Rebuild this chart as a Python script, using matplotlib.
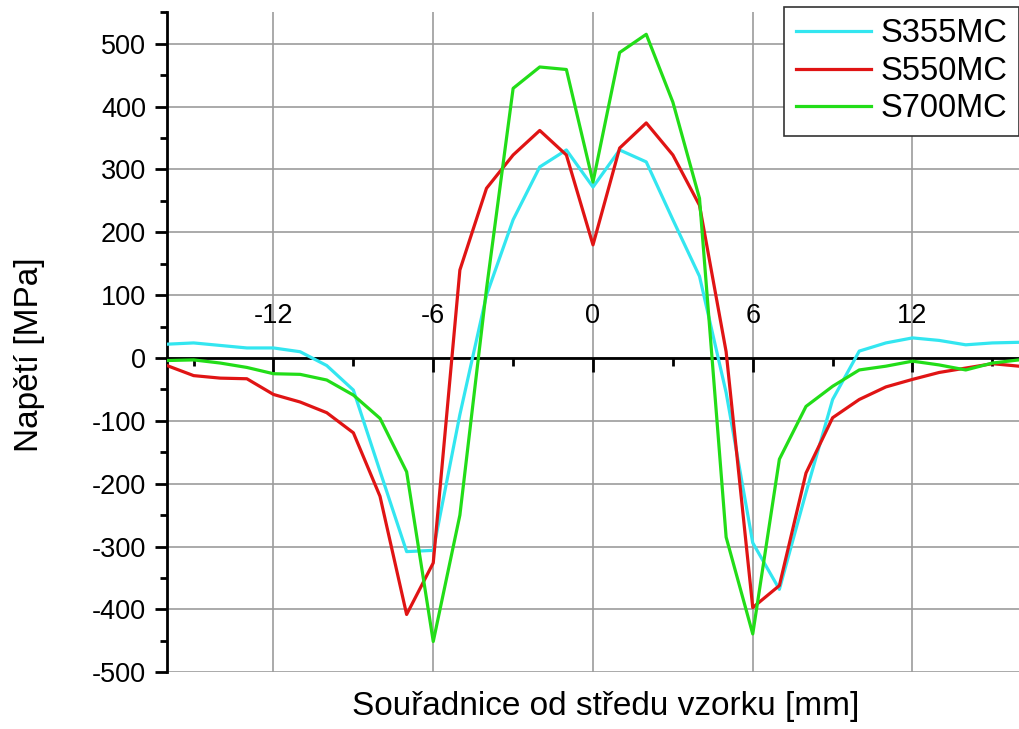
import matplotlib
matplotlib.use("Agg")
import matplotlib.pyplot as plt
from matplotlib.ticker import MultipleLocator
import numpy as np

plt.rcParams['font.family'] = ['Liberation Sans', 'DejaVu Sans']
plt.rcParams['axes.unicode_minus'] = False

# souradnice [mm]
x = list(range(-16, 17))

s355 = [22, 24, 20, 16, 16, 10, -12, -51, -180, -308, -306, -90, 100, 220, 304, 331,
        272, 331, 312, 220, 130, -55, -294, -368, -214, -66, 11, 24, 32, 28, 21, 24, 25]
s550 = [-12, -28, -32, -33, -58, -70, -87, -119, -220, -408, -326, 140, 270, 323, 362, 323,
        180, 334, 374, 323, 243, 10, -397, -362, -183, -95, -66, -46, -34, -23, -16, -9, -13]
s700 = [-4, -3, -8, -15, -25, -26, -35, -59, -96, -181, -451, -250, 110, 429, 463, 459,
        280, 486, 515, 407, 254, -285, -439, -161, -77, -45, -19, -13, -5, -11, -19, -8, -3]

labels = ['S355MC', 'S550MC', 'S700MC']
colors = ['#33e6f0', '#e01414', '#22dd18']

fig = plt.figure(figsize=(10.2, 7.29), dpi=100)
ax = fig.add_axes([167/1020, 1 - 672.3/729, 852/1020, 660/729])

for ys, lab, c in zip([s355, s550, s700], labels, colors):
    ax.plot(x, ys, color=c, lw=2.3, label=lab, zorder=3)

ax.set_xlim(-16, 16)
ax.set_ylim(-500, 550)

ax.spines['right'].set_visible(False)
ax.spines['bottom'].set_visible(False)
ax.spines['top'].set_position(('data', 0))
ax.spines['top'].set_linewidth(2)
ax.spines['left'].set_linewidth(2)
ax.spines['top'].set_zorder(2.5)

ax.xaxis.set_major_locator(MultipleLocator(6))
ax.xaxis.set_minor_locator(MultipleLocator(3))
ax.yaxis.set_major_locator(MultipleLocator(100))
ax.yaxis.set_minor_locator(MultipleLocator(50))

ax.tick_params(axis='x', which='both', direction='in', top=True, bottom=False,
               labeltop=True, labelbottom=False, width=2, labelsize=19.5, pad=21)
ax.tick_params(axis='x', which='major', length=10)
ax.tick_params(axis='x', which='minor', length=5.5)
ax.tick_params(axis='y', which='both', direction='out', width=2, labelsize=19.5, pad=6)
ax.tick_params(axis='y', which='major', length=9)
ax.tick_params(axis='y', which='minor', length=5)

ax.grid(True, which='major', color='#9c9c9c', lw=1.2, zorder=0)
ax.set_axisbelow(True)

leg = ax.legend(loc='upper right', bbox_to_anchor=(1019/1020, 1 - 7/729),
                bbox_transform=fig.transFigure, borderaxespad=0, fontsize=23.5,
                fancybox=False, framealpha=1, edgecolor='#333333',
                handlelength=2.3, handletextpad=0.3, labelspacing=0.2, borderpad=0.35)
leg.get_frame().set_linewidth(1.2)

fig.text(606/1020, 1 - 707/729, 'Souřadnice od středu vzorku [mm]', fontsize=24,
         ha='center', va='center')
fig.text(30/1020, 1 - 355/729, 'Napětí [MPa]', fontsize=24, rotation=90,
         ha='center', va='center')

fig.savefig('out.png', dpi=100)
